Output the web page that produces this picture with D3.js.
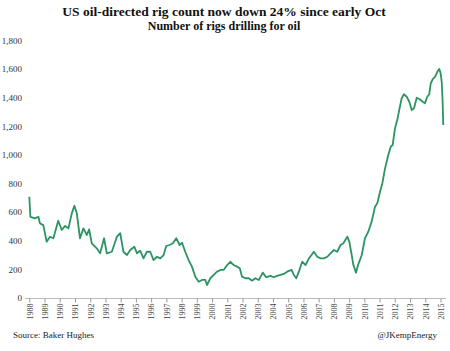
<!DOCTYPE html>
<html>
<head>
<meta charset="utf-8">
<script src="https://cdn.jsdelivr.net/npm/d3@7"></script>
<style>
  body { margin: 0; background: #fff; }
</style>
</head>
<body>
<svg id="chart" width="450" height="351"></svg>
<script>
// Data (year fraction, oil rigs)
const years = [
  1988.0, 1988.07, 1988.37, 1988.6, 1988.7, 1988.92, 1989.14, 1989.36, 1989.58, 1989.9,
  1990.13, 1990.35, 1990.57, 1990.79, 1990.96, 1991.12, 1991.33, 1991.55, 1991.78, 1991.93,
  1992.1, 1992.43, 1992.65, 1992.91, 1993.09, 1993.42, 1993.75, 1993.97, 1994.18, 1994.41,
  1994.63, 1994.9, 1995.07, 1995.28, 1995.5, 1995.72, 1995.94, 1996.16, 1996.38, 1996.6,
  1996.82, 1996.99, 1997.21, 1997.43, 1997.65, 1997.87, 1998.03, 1998.24, 1998.46, 1998.68,
  1998.9, 1999.12, 1999.34, 1999.56, 1999.67, 1999.89, 2000.11, 2000.33, 2000.55, 2000.76,
  2000.99, 2001.2, 2001.42, 2001.64, 2001.82, 2001.97, 2002.19, 2002.41, 2002.63, 2002.84,
  2003.07, 2003.33, 2003.55, 2003.84, 2004.05, 2004.28, 2004.49, 2004.71, 2004.93, 2005.22,
  2005.37, 2005.53, 2005.7, 2005.92, 2006.14, 2006.36, 2006.53, 2006.68, 2006.91, 2007.13,
  2007.34, 2007.57, 2007.78, 2008.0, 2008.22, 2008.44, 2008.62, 2008.88, 2009.01, 2009.17,
  2009.27, 2009.45, 2009.6, 2009.83, 2010.04, 2010.26, 2010.48, 2010.7, 2010.85, 2011.03,
  2011.18, 2011.36, 2011.57, 2011.73, 2011.86, 2012.01, 2012.16, 2012.29, 2012.45, 2012.6,
  2012.78, 2012.95, 2013.11, 2013.26, 2013.44, 2013.61, 2013.83, 2013.98, 2014.13, 2014.26,
  2014.36, 2014.49, 2014.64, 2014.79, 2014.92, 2015.01, 2015.08, 2015.14, 2015.18
];
const rigs = [
  709, 569, 558, 569, 523, 511, 395, 430, 419, 541,
  477, 505, 488, 593, 646, 593, 419, 488, 442, 481,
  384, 349, 314, 419, 314, 325, 430, 454, 325, 302,
  337, 360, 314, 332, 279, 325, 325, 267, 290, 279,
  302, 365, 372, 384, 419, 372, 388, 325, 267, 221,
  151, 116, 128, 128, 93, 140, 163, 186, 198, 198,
  232, 255, 232, 221, 209, 151, 140, 140, 123, 140,
  128, 179, 147, 156, 147, 156, 163, 170, 186, 198,
  163, 140, 186, 255, 232, 279, 302, 325, 290, 279,
  279, 290, 314, 337, 325, 372, 384, 430, 395, 302,
  237, 179, 237, 302, 419, 465, 535, 639, 663, 744,
  802, 907, 1000, 1058, 1070, 1186, 1244, 1314, 1396, 1424,
  1407, 1372, 1314, 1326, 1400, 1391, 1372, 1361, 1407, 1424,
  1500, 1530, 1546, 1581, 1600, 1570, 1511, 1372, 1209
];
const yTicks = [0, 200, 400, 600, 800, 1000, 1200, 1400, 1600, 1800];
const xTicks = d3.range(1988, 2016);

const serif = "'Liberation Serif', 'Times New Roman', Times, serif";

const svg = d3.select("#chart");

const x = d3.scaleLinear().domain([1988, 2015]).range([29.3, 440.5]);
const y = d3.scaleLinear().domain([0, 1800]).range([298.3, 40.4]);

// titles
svg.append("text")
  .attr("x", 224).attr("y", 16)
  .attr("text-anchor", "middle")
  .attr("font-family", serif)
  .attr("font-size", 13.5).attr("font-weight", "bold").attr("fill", "#111")
  .text("US oil-directed rig count now down 24% since early Oct");
svg.append("text")
  .attr("x", 224).attr("y", 30)
  .attr("text-anchor", "middle")
  .attr("font-family", serif)
  .attr("font-size", 12).attr("font-weight", "bold").attr("fill", "#111")
  .text("Number of rigs drilling for oil");

// y labels (no axis line)
svg.append("g")
  .selectAll("text")
  .data(yTicks)
  .enter()
  .append("text")
    .attr("x", 22)
    .attr("y", d => y(d))
    .attr("dy", "0.35em")
    .attr("text-anchor", "end")
    .attr("font-family", serif)
    .attr("font-size", 9)
    .attr("fill", "#333")
    .text(d => d3.format(",")(d));

// x axis
const xAxis = svg.append("g")
  .attr("transform", "translate(0,298.5)")
  .call(d3.axisBottom(x).tickValues(xTicks).tickSize(4).tickSizeOuter(0).tickFormat(d3.format("d")))
  .attr("font-family", serif);
xAxis.select(".domain").attr("stroke", "#bbb").attr("d", "M25,0H446");
xAxis.selectAll(".tick line").attr("stroke", "#999");
xAxis.selectAll(".tick text")
  .attr("transform", "rotate(-90)")
  .attr("x", -5).attr("y", 0).attr("dy", "0.35em")
  .attr("text-anchor", "end")
  .attr("font-size", 8)
  .attr("fill", "#444");

// line
const line = d3.line()
  .x((d, i) => x(years[i]))
  .y(d => y(d));
svg.append("path")
  .datum(rigs)
  .attr("d", line)
  .attr("fill", "none")
  .attr("stroke", "#2b9462")
  .attr("stroke-width", 1.8)
  .attr("stroke-linejoin", "round");

// footer
svg.append("text")
  .attr("x", 13).attr("y", 338)
  .attr("font-family", serif)
  .attr("font-size", 9).attr("fill", "#222")
  .text("Source: Baker Hughes");
svg.append("text")
  .attr("x", 437).attr("y", 338)
  .attr("text-anchor", "end")
  .attr("font-family", serif)
  .attr("font-size", 9).attr("fill", "#222")
  .text("@JKempEnergy");
</script>
</body>
</html>
